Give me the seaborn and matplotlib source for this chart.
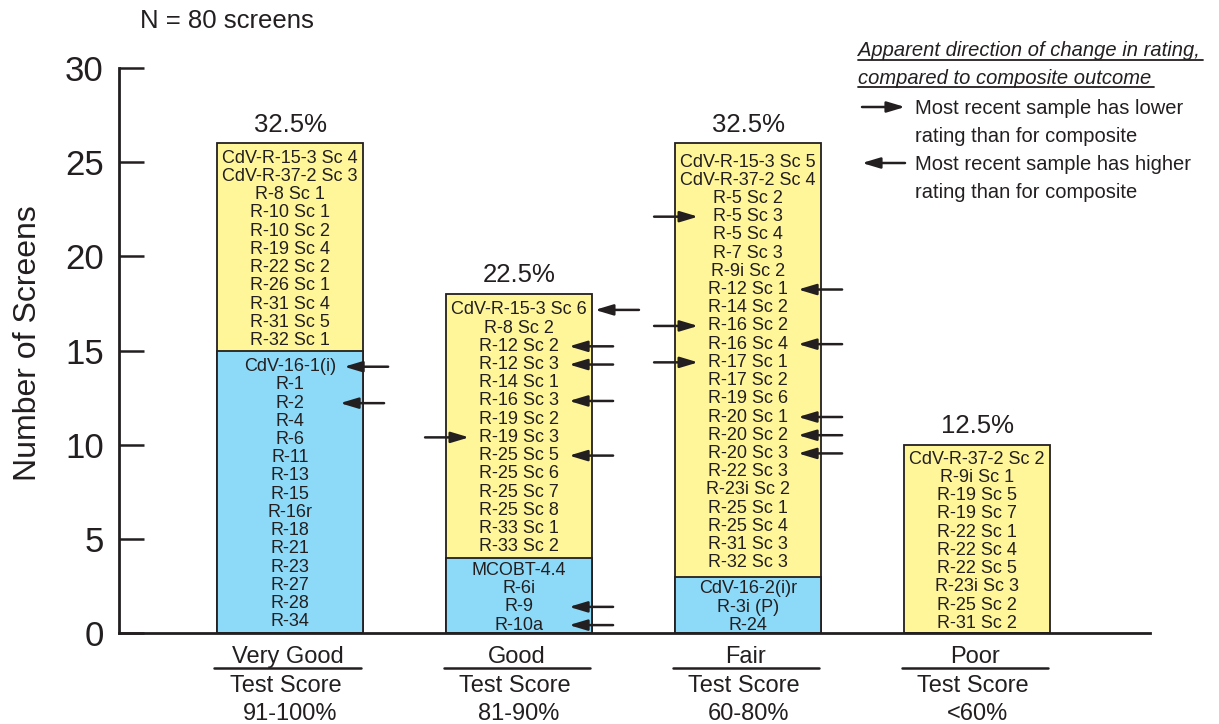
import matplotlib
matplotlib.use('Agg')
import matplotlib.pyplot as plt
from matplotlib.lines import Line2D
import pandas as pd
import seaborn as sns

# ---- data ----
categories = ['Very Good', 'Good', 'Fair', 'Poor']
score_ranges = ['91-100%', '81-90%', '60-80%', '<60%']

blue_labels = [
    ['CdV-16-1(i)', 'R-1', 'R-2', 'R-4', 'R-6', 'R-11', 'R-13', 'R-15', 'R-16r',
     'R-18', 'R-21', 'R-23', 'R-27', 'R-28', 'R-34'],
    ['MCOBT-4.4', 'R-6i', 'R-9', 'R-10a'],
    ['CdV-16-2(i)r', 'R-3i (P)', 'R-24'],
    [],
]
yellow_labels = [
    ['CdV-R-15-3 Sc 4', 'CdV-R-37-2 Sc 3', 'R-8 Sc 1', 'R-10 Sc 1', 'R-10 Sc 2',
     'R-19 Sc 4', 'R-22 Sc 2', 'R-26 Sc 1', 'R-31 Sc 4', 'R-31 Sc 5', 'R-32 Sc 1'],
    ['CdV-R-15-3 Sc 6', 'R-8 Sc 2', 'R-12 Sc 2', 'R-12 Sc 3', 'R-14 Sc 1', 'R-16 Sc 3',
     'R-19 Sc 2', 'R-19 Sc 3', 'R-25 Sc 5', 'R-25 Sc 6', 'R-25 Sc 7', 'R-25 Sc 8',
     'R-33 Sc 1', 'R-33 Sc 2'],
    ['CdV-R-15-3 Sc 5', 'CdV-R-37-2 Sc 4', 'R-5 Sc 2', 'R-5 Sc 3', 'R-5 Sc 4', 'R-7 Sc 3',
     'R-9i Sc 2', 'R-12 Sc 1', 'R-14 Sc 2', 'R-16 Sc 2', 'R-16 Sc 4', 'R-17 Sc 1',
     'R-17 Sc 2', 'R-19 Sc 6', 'R-20 Sc 1', 'R-20 Sc 2', 'R-20 Sc 3', 'R-22 Sc 3',
     'R-23i Sc 2', 'R-25 Sc 1', 'R-25 Sc 4', 'R-31 Sc 3', 'R-32 Sc 3'],
    ['CdV-R-37-2 Sc 2', 'R-9i Sc 1', 'R-19 Sc 5', 'R-19 Sc 7', 'R-22 Sc 1', 'R-22 Sc 4',
     'R-22 Sc 5', 'R-23i Sc 3', 'R-25 Sc 2', 'R-31 Sc 2'],
]

# most recent sample rated lower (->) or higher (<-) than composite
lower_recent = ['R-19 Sc 3', 'R-5 Sc 3', 'R-16 Sc 2', 'R-17 Sc 1']
higher_recent = ['CdV-16-1(i)', 'R-2', 'CdV-R-15-3 Sc 6', 'R-12 Sc 2', 'R-12 Sc 3',
                 'R-16 Sc 3', 'R-25 Sc 5', 'R-9', 'R-10a', 'R-12 Sc 1', 'R-16 Sc 4',
                 'R-20 Sc 1', 'R-20 Sc 2', 'R-20 Sc 3']

n_total = 80

df = pd.DataFrame({
    'category': categories,
    'blue': [len(b) for b in blue_labels],
    'total': [len(b) + len(y) for b, y in zip(blue_labels, yellow_labels)],
})

# ---- style ----
sns.set_theme(style='white')
plt.rcParams['font.family'] = ['Liberation Sans', 'DejaVu Sans']
dark = '#231f20'
blue = '#8dd9f8'
yellow = '#fff69a'

fig = plt.figure(figsize=(12.19, 7.24), dpi=100)
ax = fig.add_axes([119 / 1219, 91 / 724, 1031 / 1219, 565 / 724])

sns.barplot(data=df, x='category', y='total', order=categories, color=yellow,
            saturation=1, width=0.64, edgecolor=dark, linewidth=1.3, ax=ax)
sns.barplot(data=df, x='category', y='blue', order=categories, color=blue,
            saturation=1, width=0.64, edgecolor=dark, linewidth=1.3, ax=ax)

ax.set_xlim(-0.747, 3.755)
ax.set_ylim(0, 30)
ax.set_yticks(range(0, 31, 5))
ax.set_xticks([])
ax.set_xlabel('')
ax.set_ylabel('')
sns.despine(ax=ax)
for s in ['left', 'bottom']:
    ax.spines[s].set_linewidth(2.0)
    ax.spines[s].set_color(dark)
ax.tick_params(axis='y', direction='in', length=18, width=1.8, pad=11,
               labelsize=25, colors=dark, left=True)

# ---- labels inside bars ----
step = 0.967
texts = []
for i in range(len(categories)):
    nb = len(blue_labels[i])
    segs = [(0, nb, blue_labels[i]), (nb, df['total'][i], yellow_labels[i])]
    for lo, hi, labs in segs:
        c = (lo + hi) / 2 - 0.13
        n = len(labs)
        for k, lab in enumerate(labs):
            y = c + ((n - 1) / 2 - k) * step
            t = ax.text(i, y, lab, ha='center', va='center', fontsize=13, color=dark)
            texts.append((i, y, lab, t))
    pct = df['total'][i] / n_total * 100
    ax.text(i, df['total'][i] + 1.0, f'{pct:.1f}%', ha='center', va='center',
            fontsize=18.5, color=dark)

# ---- category labels under the axis ----
xt = ax.get_xaxis_transform()
for i, (cat, rng) in enumerate(zip(categories, score_ranges)):
    ax.text(i - 0.01, -0.043, cat, transform=xt, ha='center', va='center',
            fontsize=17, color=dark)
    ax.plot([i - 0.33, i + 0.31], [-0.062, -0.062], transform=xt, clip_on=False,
            color=dark, lw=1.8)
    ax.text(i - 0.02, -0.094, 'Test Score', transform=xt, ha='center', va='center',
            fontsize=17, color=dark)
    ax.text(i, -0.143, rng, transform=xt, ha='center', va='center',
            fontsize=17, color=dark)

fig.text(28 / 1219, 1 - 343 / 724, 'Number of Screens', rotation=90,
         ha='center', va='center', fontsize=23, color=dark)
fig.text(140 / 1219, 1 - 21 / 724, 'N = 80 screens', ha='left', va='center',
         fontsize=18.5, color=dark)

# ---- legend ----
t1 = fig.text(858 / 1219, 1 - 51 / 724, 'Apparent direction of change in rating,',
              ha='left', va='center', fontsize=14.5, style='italic', color=dark)
t2 = fig.text(858 / 1219, 1 - 78 / 724, 'compared to composite outcome',
              ha='left', va='center', fontsize=14.5, style='italic', color=dark)
for y, s in [(108, 'Most recent sample has lower'), (136, 'rating than for composite'),
             (164, 'Most recent sample has higher'), (192, 'rating than for composite')]:
    fig.text(915 / 1219, 1 - y / 724, s, ha='left', va='center', fontsize=14.5, color=dark)

arrow_style = dict(arrowstyle='-|>,head_length=0.6,head_width=0.18', color=dark,
                   lw=1.8, shrinkA=0, shrinkB=0, mutation_scale=18)
fig.add_artist(plt.Annotation('', xy=(905 / 1219, 1 - 107 / 724), xycoords='figure fraction',
                              xytext=(862 / 1219, 1 - 107 / 724), textcoords='figure fraction',
                              arrowprops=arrow_style))
fig.add_artist(plt.Annotation('', xy=(862 / 1219, 1 - 163 / 724), xycoords='figure fraction',
                              xytext=(905 / 1219, 1 - 163 / 724), textcoords='figure fraction',
                              arrowprops=arrow_style))

# ---- arrows beside bar labels + underlines ----
fig.canvas.draw()
renderer = fig.canvas.get_renderer()
inv = ax.transData.inverted()
px = ax.transData.transform((1, 0))[0] - ax.transData.transform((0, 0))[0]

for i, y, lab, t in texts:
    bb = t.get_window_extent(renderer)
    x0 = inv.transform((bb.x0, bb.y0))[0]
    x1 = inv.transform((bb.x1, bb.y0))[0]
    if lab in higher_recent:
        tip = max(i + 50 / px, x1 + 8 / px)
        ax.annotate('', xy=(tip, y), xytext=(tip + 44 / px, y),
                    arrowprops=arrow_style, annotation_clip=False)
    elif lab in lower_recent:
        tip = min(i - 50 / px, x0 - 8 / px)
        ax.annotate('', xy=(tip, y), xytext=(tip - 44 / px, y),
                    arrowprops=arrow_style, annotation_clip=False)

for t in [t1, t2]:
    bb = t.get_window_extent(renderer)
    fig.add_artist(Line2D([bb.x0, bb.x1 + 3], [bb.y0 + 1, bb.y0 + 1],
                          transform=None, color=dark, lw=1.3))

plt.savefig('out.png', dpi=100)
